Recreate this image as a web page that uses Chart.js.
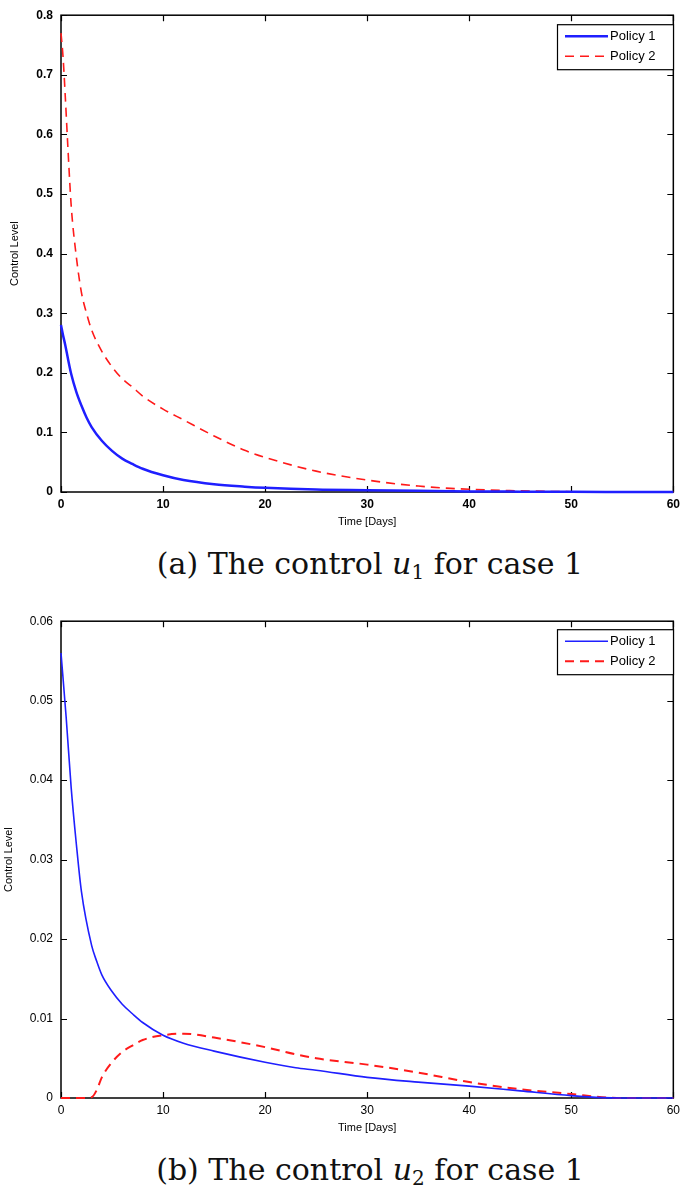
<!DOCTYPE html>
<html>
<head>
<meta charset="utf-8">
<script src="https://cdn.jsdelivr.net/npm/chart.js@4.4.1/dist/chart.umd.min.js"></script>
<style>
  body { margin: 0; background: #fff; width: 685px; height: 1192px; position: relative; overflow: hidden; }
  .panel { position: absolute; left: 0; width: 685px; height: 535px; }
  .caption { position: absolute; left: 0; width: 740px; text-align: center; font-family: "DejaVu Serif", serif; font-size: 30px; line-height: 34px; color: #111; }
  .caption i { font-style: italic; }
  .caption sub { font-size: 20px; vertical-align: -5px; line-height: 0; }
</style>
</head>
<body>
<div class="panel" style="top:0"><canvas id="chartA" width="685" height="535"></canvas></div>
<div class="caption" style="top:547px">(a) The control <i>u</i><sub>1</sub> for case 1</div>
<div class="panel" style="top:606px"><canvas id="chartB" width="685" height="535"></canvas></div>
<div class="caption" style="top:1153px">(b) The control <i>u</i><sub>2</sub> for case 1</div>
<script>
// 数据：case 1 的控制量 u1
const daysA = [0, 0.2, 0.4, 0.7, 1, 1.5, 2, 2.5, 3, 4, 5, 6, 7, 8, 10, 12, 15, 18, 20, 25, 30, 35, 40, 45, 50, 55, 60];
const policy1A = [0.28, 0.263, 0.248, 0.222, 0.198, 0.168, 0.145, 0.125, 0.109, 0.086, 0.069, 0.056, 0.047, 0.039, 0.028, 0.02, 0.013, 0.009, 0.007, 0.004, 0.003, 0.002, 0.001, 0.0006, 0.0003, 0.0001, 0];
const policy2A = [0.77, 0.73, 0.67, 0.57, 0.48, 0.395, 0.335, 0.3, 0.272, 0.236, 0.21, 0.19, 0.176, 0.161, 0.139, 0.121, 0.094, 0.07, 0.058, 0.035, 0.02, 0.01, 0.0045, 0.002, 0.0005, 0.0001, 0];

// 数据：case 1 的控制量 u2
const daysB = [0, 0.5, 1, 1.5, 2, 3, 3.5, 4, 5, 6, 7, 8, 10, 12, 15, 20, 23, 25, 30, 35, 40, 45, 50, 53, 55, 60];
const policy1B = [0.056, 0.048, 0.039, 0.032, 0.026, 0.0192, 0.0172, 0.0155, 0.0134, 0.0118, 0.0106, 0.0095, 0.0079, 0.0069, 0.0059, 0.0045, 0.0038, 0.0035, 0.0026, 0.002, 0.0015, 0.0009, 0.0003, 0.00005, 0, 0];
const policy2B = [0, 0, 0, 0, 0, 0.0001, 0.001, 0.0026, 0.0045, 0.0058, 0.0066, 0.0073, 0.0079, 0.0081, 0.0076, 0.0064, 0.0055, 0.005, 0.0042, 0.0032, 0.002, 0.0011, 0.0005, 0.0001, 0, 0];

const seriesLabels = ['Policy 1', 'Policy 2'];
const xTicks = [0, 10, 20, 30, 40, 50, 60];

function toPoints(xs, ys) {
    return xs.map((x, i) => ({ x: x, y: ys[i] }));
}

// 边框和内向刻度（画在曲线下面）
const framePlugin = {
    id: 'frame',
    beforeDatasetsDraw(chart) {
        const ctx = chart.ctx;
        const a = chart.chartArea;
        const xs = chart.scales.x, ys = chart.scales.y;
        ctx.save();
        ctx.strokeStyle = '#000';
        ctx.lineWidth = 1.5;
        ctx.strokeRect(a.left, a.top, a.right - a.left, a.bottom - a.top);
        ctx.lineWidth = 1.2;
        ctx.beginPath();
        xs.ticks.forEach(t => {
            const px = Math.round(xs.getPixelForValue(t.value)) + 0.5;
            ctx.moveTo(px, a.bottom); ctx.lineTo(px, a.bottom - 6);
            ctx.moveTo(px, a.top); ctx.lineTo(px, a.top + 6);
        });
        ys.ticks.forEach(t => {
            const py = Math.round(ys.getPixelForValue(t.value)) + 0.5;
            ctx.moveTo(a.left, py); ctx.lineTo(a.left + 6, py);
            ctx.moveTo(a.right, py); ctx.lineTo(a.right - 6, py);
        });
        ctx.stroke();
        ctx.restore();
    },
    // 图例
    afterDraw(chart, args, opts) {
        const ctx = chart.ctx;
        const a = chart.chartArea;
        const bx = 557, by = a.top + opts.legendTop, bw = 116, bh = 45;
        ctx.save();
        ctx.fillStyle = '#fff';
        ctx.fillRect(bx, by, bw, bh);
        ctx.lineWidth = 1.2;
        ctx.strokeStyle = '#000';
        ctx.strokeRect(bx + 0.5, by + 0.5, bw, bh);
        ctx.font = '13px "Liberation Sans", Arial, sans-serif';
        ctx.textBaseline = 'middle';
        chart.data.datasets.forEach((ds, i) => {
            const ly = by + 12 + i * 20;
            ctx.strokeStyle = ds.borderColor;
            ctx.lineWidth = ds.borderWidth;
            ctx.setLineDash(ds.borderDash || []);
            ctx.beginPath();
            ctx.moveTo(bx + 8, ly); ctx.lineTo(bx + 51, ly);
            ctx.stroke();
            ctx.setLineDash([]);
            ctx.fillStyle = '#000';
            ctx.fillText(ds.label, bx + 53, ly);
        });
        ctx.restore();
    }
};

function makeChart(id, days, p1, p2, yMax, yStep, tickFont, w1, w2, titlePad, legendTop) {
    return new Chart(document.getElementById(id), {
        type: 'line',
        data: {
            datasets: [
                {
                    label: seriesLabels[0],
                    data: toPoints(days, p1),
                    borderColor: '#1f1fff',
                    borderWidth: w1,
                    pointRadius: 0,
                    cubicInterpolationMode: 'monotone',
                    clip: 4
                },
                {
                    label: seriesLabels[1],
                    data: toPoints(days, p2),
                    borderColor: '#ff1a1a',
                    borderWidth: w2,
                    borderDash: [9, 6],
                    pointRadius: 0,
                    cubicInterpolationMode: 'monotone',
                    clip: 4
                }
            ]
        },
        options: {
            responsive: false,
            animation: false,
            layout: { padding: { top: 8, right: 8, left: 0, bottom: 0 } },
            plugins: {
                legend: { display: false },
                tooltip: { enabled: false },
                frame: { legendTop: legendTop }
            },
            scales: {
                x: {
                    type: 'linear',
                    min: 0, max: 60,
                    afterBuildTicks: s => { s.ticks = xTicks.map(v => ({ value: v })); },
                    afterFit: s => { s.height = 43; },
                    grid: { display: false, drawTicks: false },
                    border: { display: false },
                    ticks: { color: '#000', font: tickFont, padding: 5, maxRotation: 0 },
                    title: {
                        display: true, text: 'Time [Days]', color: '#000',
                        font: { family: '"Liberation Sans", Arial, sans-serif', size: 11 },
                        padding: { top: 0, bottom: 6 }
                    }
                },
                y: {
                    min: 0, max: yMax,
                    afterFit: s => { s.width = 61; },
                    grid: { display: false, drawTicks: false },
                    border: { display: false },
                    ticks: {
                        stepSize: yStep, color: '#000', font: tickFont, padding: 8,
                        callback: v => Number(v.toFixed(4)).toString()
                    },
                    title: {
                        display: true, text: 'Control Level', color: '#000',
                        font: { family: '"Liberation Sans", Arial, sans-serif', size: 11 },
                        padding: { top: titlePad, bottom: 0 }
                    }
                }
            }
        },
        plugins: [framePlugin]
    });
}

makeChart('chartA', daysA, policy1A, policy2A, 0.8, 0.1,
    { family: '"Liberation Sans", Arial, sans-serif', size: 12, weight: 'bold' }, 2.5, 1.6, 8, 9);
makeChart('chartB', daysB, policy1B, policy2B, 0.06, 0.01,
    { family: '"Liberation Sans", Arial, sans-serif', size: 12 }, 1.6, 2, 2, 8);
</script>
</body>
</html>
